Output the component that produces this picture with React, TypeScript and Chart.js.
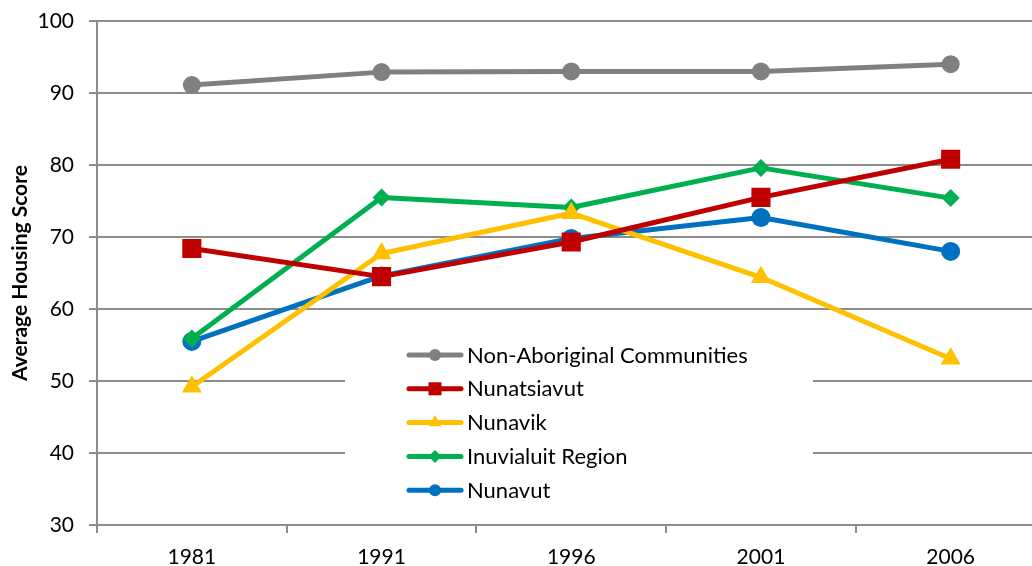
import React, { useEffect, useRef } from "react";
import { Chart, registerables } from "chart.js";

Chart.register(...registerables);

const categories = ["1981", "1991", "1996", "2001", "2006"];
const nonAboriginal = [91.1, 92.9, 93.0, 93.0, 94.0];
const nunatsiavut = [68.4, 64.5, 69.3, 75.5, 80.8];
const nunavik = [49.2, 67.7, 73.3, 64.4, 53.1];
const inuvialuit = [55.9, 75.5, 74.1, 79.6, 75.4];
const nunavut = [55.5, 64.6, 69.8, 72.7, 68.0];

const seriesNames = [
  "Non-Aboriginal Communities",
  "Nunatsiavut",
  "Nunavik",
  "Inuvialuit Region",
  "Nunavut",
];
const seriesColors = ["#808080", "#C00000", "#FFC000", "#00B050", "#0070C0"];
const seriesShapes = ["circle", "rect", "triangle", "rectRot", "circle"];
const seriesRadii = [9, 13.5, 11.5, 9, 9.5];

const yMin = 30;
const yMax = 100;
const yStep = 10;
const yTitle = "Average Housing Score";

const GRID = "#8c8c8c";
const FONT = "Lato";

function drawLegendMarker(ctx: CanvasRenderingContext2D, shape: string, x: number, y: number) {
  ctx.beginPath();
  if (shape === "circle") {
    ctx.arc(x, y, 6, 0, Math.PI * 2);
  } else if (shape === "rect") {
    ctx.rect(x - 6.5, y - 6.5, 13, 13);
  } else if (shape === "triangle") {
    const r = 7.5;
    ctx.moveTo(x, y - r);
    ctx.lineTo(x + r * Math.sin((2 * Math.PI) / 3), y - r * Math.cos((2 * Math.PI) / 3));
    ctx.lineTo(x + r * Math.sin((4 * Math.PI) / 3), y - r * Math.cos((4 * Math.PI) / 3));
    ctx.closePath();
  } else {
    const r = 6.5;
    ctx.moveTo(x - r, y);
    ctx.lineTo(x, y - r);
    ctx.lineTo(x + r, y);
    ctx.lineTo(x, y + r);
    ctx.closePath();
  }
  ctx.fill();
}

const insideLegend = {
  id: "insideLegend",
  beforeDatasetsDraw(chart: any) {
    const ctx: CanvasRenderingContext2D = chart.ctx;
    ctx.save();
    ctx.fillStyle = "#ffffff";
    ctx.fillRect(345, 322, 468, 186);
    chart.data.datasets.forEach((ds: any, i: number) => {
      const y = 355 + i * 33.8;
      ctx.strokeStyle = ds.borderColor;
      ctx.fillStyle = ds.borderColor;
      ctx.lineWidth = 5;
      ctx.lineCap = "round";
      ctx.beginPath();
      ctx.moveTo(409, y);
      ctx.lineTo(461, y);
      ctx.stroke();
      drawLegendMarker(ctx, ds.pointStyle, 435, y);
      ctx.fillStyle = "#000000";
      ctx.font = `22px ${FONT}`;
      ctx.textAlign = "left";
      ctx.textBaseline = "middle";
      ctx.fillText(ds.label, 467, y + 0.5);
    });
    ctx.restore();
  },
};

export default function App() {
  const ref = useRef<HTMLCanvasElement | null>(null);

  useEffect(() => {
    if (!ref.current) return;
    const allData = [nonAboriginal, nunatsiavut, nunavik, inuvialuit, nunavut];
    const chart = new Chart(ref.current, {
      type: "line",
      data: {
        labels: categories,
        datasets: allData.map((d, i) => ({
          label: seriesNames[i],
          data: d,
          borderColor: seriesColors[i],
          backgroundColor: seriesColors[i],
          borderWidth: 5,
          borderCapStyle: "round",
          borderJoinStyle: "round",
          pointStyle: seriesShapes[i],
          pointRadius: seriesRadii[i],
          pointBorderWidth: 0,
          pointBackgroundColor: seriesColors[i],
          pointBorderColor: seriesColors[i],
          tension: 0,
          fill: false,
        })),
      },
      options: {
        responsive: false,
        animation: false,
        devicePixelRatio: 1,
        layout: { padding: { top: 21, left: 0, right: 0, bottom: 0 } },
        plugins: {
          legend: { display: false },
          tooltip: { enabled: false },
        },
        scales: {
          x: {
            type: "category",
            offset: true,
            grid: {
              offset: true,
              drawOnChartArea: false,
              drawTicks: true,
              tickLength: 8,
              color: GRID,
              lineWidth: 2,
            },
            border: { display: true, color: GRID, width: 2 },
            ticks: {
              color: "#000000",
              font: { family: FONT, size: 21 },
              padding: 12,
              maxRotation: 0,
              autoSkip: false,
            },
            afterFit: (s: any) => {
              s.height = 41;
              s.paddingLeft = 0;
              s.paddingRight = 0;
            },
          },
          y: {
            min: yMin,
            max: yMax,
            ticks: {
              stepSize: yStep,
              color: "#000000",
              font: { family: FONT, size: 21 },
              padding: 15,
            },
            grid: {
              color: GRID,
              lineWidth: 2,
              tickLength: 8,
              drawTicks: true,
            },
            border: { display: true, color: GRID, width: 2 },
            title: {
              display: true,
              text: yTitle,
              color: "#000000",
              font: { family: FONT, size: 21, weight: "bold" },
              padding: { top: 8, bottom: 0 },
            },
            afterFit: (s: any) => {
              s.width = 97;
              s.paddingTop = 0;
              s.paddingBottom = 0;
            },
          },
        },
      },
      plugins: [insideLegend],
    } as any);
    return () => chart.destroy();
  }, []);

  return (
    <div
      style={{
        position: "fixed",
        left: 0,
        top: 0,
        width: 1032,
        height: 566,
        overflow: "hidden",
        background: "#ffffff",
      }}
    >
      <canvas ref={ref} width={1059} height={566} style={{ display: "block" }} />
    </div>
  );
}
